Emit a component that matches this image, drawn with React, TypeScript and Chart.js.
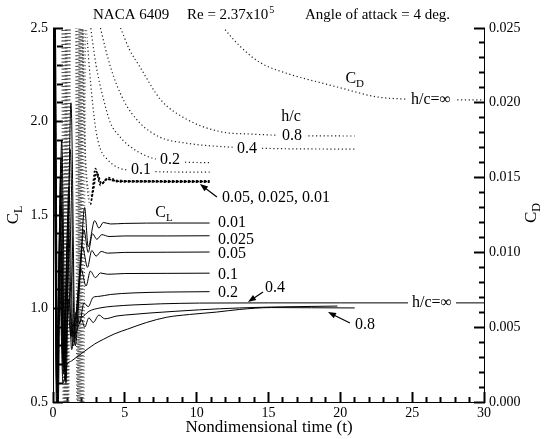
import React, { useEffect, useRef } from "react";
import { Chart, registerables } from "chart.js";

Chart.register(...registerables);

const SERIF = "'Liberation Serif', 'Times New Roman', Times, serif";

// ---------- axes ----------
const xMin = 0, xMax = 30, xMinorStep = 1, xMajor = 5;
const clMin = 0.5, clMax = 2.5, clMinorStep = 0.1, clMajor = 0.5;
const cdMin = 0, cdMax = 0.025, cdMinorStep = 0.001, cdMajor = 0.005;

// ---------- CL (solid) series: time, value ----------
const cl001T = [0, 0.15, 0.35, 0.6, 0.9, 1.25, 1.55, 1.9, 2.2, 2.45, 2.9, 3.2, 3.5, 4.0, 5.0, 8.0, 10.9];
const cl001 = [2.7, 2.6, 0.45, 1.9, 0.6, 2.1, 0.8, 1.2, 1.54, 1.33, 1.47, 1.43, 1.46, 1.452, 1.455, 1.457, 1.457];

const cl0025T = [0, 0.12, 0.32, 0.55, 0.85, 1.2, 1.5, 1.85, 2.15, 2.45, 2.75, 3.05, 3.4, 3.9, 5.0, 8.0, 10.9];
const cl0025 = [2.7, 2.6, 0.5, 1.8, 0.62, 1.85, 0.85, 1.15, 1.42, 1.3, 1.4, 1.37, 1.395, 1.385, 1.388, 1.388, 1.389];

const cl005T = [0, 0.1, 0.3, 0.52, 0.8, 1.1, 1.42, 1.75, 2.05, 2.4, 2.7, 3.0, 3.35, 3.8, 5.0, 8.0, 10.9];
const cl005 = [2.7, 2.6, 0.55, 1.7, 0.66, 1.65, 0.82, 1.1, 1.33, 1.22, 1.31, 1.28, 1.305, 1.296, 1.3, 1.301, 1.302];

const cl01T = [0, 0.08, 0.28, 0.5, 0.76, 1.05, 1.35, 1.65, 1.95, 2.3, 2.6, 2.95, 3.3, 3.8, 5.0, 8.0, 10.9];
const cl01 = [2.7, 2.6, 0.55, 1.55, 0.7, 1.5, 0.85, 1.0, 1.21, 1.12, 1.2, 1.165, 1.19, 1.183, 1.187, 1.188, 1.189];

const cl02T = [0, 0.07, 0.26, 0.48, 0.72, 1.0, 1.3, 1.6, 1.85, 2.15, 2.45, 2.8, 3.2, 4.0, 5.5, 8.0, 10.9];
const cl02 = [2.7, 2.6, 0.55, 1.45, 0.65, 1.35, 0.78, 0.98, 0.92, 1.03, 1.01, 1.06, 1.065, 1.075, 1.083, 1.088, 1.09];

const cl04T = [0, 0.06, 0.27, 0.5, 0.78, 1.1, 1.4, 1.67, 2.0, 2.2, 2.5, 2.8, 3.2, 3.6, 4.45, 5.5, 6.75, 8.5, 10.2, 13.0, 16.0, 19.8];
const cl04 = [2.7, 2.6, 0.58, 1.3, 0.68, 1.05, 0.8, 0.885, 0.94, 0.9, 0.95, 0.925, 0.965, 0.945, 0.96, 0.968, 0.976, 0.985, 0.993, 1.003, 1.009, 1.013];

const cl08T = [0, 0.05, 0.24, 0.45, 0.7, 0.97, 1.3, 2.0, 2.9, 3.5, 4.3, 5.2, 6.5, 7.9, 9.5, 11.4, 13.0, 15.2, 18.0, 21.0];
const cl08 = [2.7, 2.6, 0.5, 1.15, 0.6, 0.698, 0.72, 0.76, 0.81, 0.835, 0.865, 0.89, 0.925, 0.953, 0.968, 0.981, 0.995, 1.005, 1.004, 1.003];

const clInfT = [0, 0.05, 0.25, 0.45, 0.7, 0.95, 1.25, 1.55, 2.0, 2.5, 3.27, 4.2, 5.57, 7.5, 10.2, 15.0, 20.0, 25.0, 30.0];
const clInf = [2.7, 2.6, 0.6, 1.3, 0.72, 1.1, 0.85, 0.95, 0.955, 0.985, 1.003, 1.012, 1.019, 1.025, 1.029, 1.03, 1.03, 1.03, 1.03];

// ---------- CD (dotted) series: time, value ----------
const cd001T = [0.6, 0.72, 0.9, 1.55, 1.67, 1.85, 2.2, 2.6, 2.95, 3.3, 3.75, 4.5, 6.0, 8.0, 10.9];
const cd001 = [0.03, -0.003, 0.03, 0.03, -0.003, 0.03, 0.0172, 0.0132, 0.0156, 0.0145, 0.0149, 0.01472, 0.01471, 0.0147, 0.0147];

const cd0025T = [0.65, 0.78, 0.95, 1.6, 1.72, 1.9, 2.25, 2.65, 3.0, 3.35, 3.8, 4.5, 6.0, 8.0, 10.9];
const cd0025 = [0.03, -0.003, 0.03, 0.03, -0.003, 0.03, 0.0165, 0.0135, 0.0154, 0.0146, 0.0149, 0.01476, 0.01475, 0.01474, 0.01474];

const cd005T = [0.7, 0.83, 1.0, 1.66, 1.78, 1.95, 2.3, 2.7, 3.05, 3.4, 3.85, 4.5, 6.0, 8.0, 10.9];
const cd005 = [0.03, -0.003, 0.03, 0.03, -0.003, 0.03, 0.0158, 0.0138, 0.0153, 0.0146, 0.015, 0.0148, 0.01479, 0.01478, 0.01478];

const cd01T = [0.75, 0.88, 1.05, 1.72, 1.84, 2.0, 2.4, 2.7, 3.0, 3.3, 3.8, 4.45, 5.5, 7.0, 10.9];
const cd01 = [0.03, -0.003, 0.03, 0.03, -0.003, 0.03, 0.024, 0.0205, 0.0181, 0.0169, 0.0162, 0.0157, 0.01548, 0.0154, 0.01536];

const cd02T = [0.8, 0.93, 1.1, 1.78, 1.9, 2.05, 2.5, 3.0, 3.5, 4.0, 4.6, 5.2, 6.5, 8.0, 9.5, 10.9];
const cd02 = [0.03, -0.003, 0.03, 0.03, -0.003, 0.03, 0.026, 0.0225, 0.0203, 0.01865, 0.0178, 0.0172, 0.01645, 0.0161, 0.01602, 0.016];

const cd04T = [0.85, 0.98, 1.15, 1.85, 1.97, 2.12, 3.3, 4.0, 4.9, 6.05, 7.45, 9.3, 11.6, 15.0, 21.0];
const cd04 = [0.03, -0.003, 0.03, 0.03, -0.003, 0.03, 0.025, 0.0224, 0.0202, 0.01865, 0.0177, 0.0173, 0.01708, 0.01695, 0.0169];

const cd08T = [0.9, 1.03, 1.2, 1.92, 2.04, 2.2, 4.7, 5.3, 6.05, 7.5, 9.3, 11.6, 14.0, 17.0, 21.0];
const cd08 = [0.03, -0.003, 0.03, 0.03, -0.003, 0.03, 0.025, 0.0236, 0.0224, 0.0202, 0.0189, 0.01808, 0.0179, 0.0178, 0.01778];

const cdInfT = [0.95, 1.08, 1.25, 2.0, 2.12, 2.3, 10.5, 11.9, 13.0, 14.4, 16.5, 18.8, 20.0, 22.5, 24.5, 27.0, 30.0];
const cdInf = [0.03, -0.003, 0.03, 0.03, -0.003, 0.03, 0.027, 0.025, 0.0238, 0.0227, 0.0219, 0.0213, 0.021, 0.0204, 0.02025, 0.0202, 0.0202];

// ---------- annotations (in data coordinates) ----------
const clCurveLabels = ["0.01", "0.025", "0.05", "0.1", "0.2"];
const clCurveLabelT = [11.48, 11.48, 11.48, 11.48, 11.48];
const clCurveLabelV = [1.457, 1.366, 1.291, 1.179, 1.083];

const cdCurveLabels = ["0.1", "0.2", "0.4", "0.8", "h/c", "h/c=\u221E"];
const cdCurveLabelT = [6.12, 8.14, 13.5, 16.63, 16.57, 26.31];
const cdCurveLabelV = [0.01551, 0.01618, 0.01691, 0.01778, 0.01905, 0.02019];

const EARLY_T = 2.35;
const TICK_LEN = 10;
const MINOR_LEN = 6;

const isMajor = (v: number, major: number) => Math.abs(v / major - Math.round(v / major)) < 1e-6;

const mk = (ts: number[], vs: number[]) => ts.map((t, i) => ({ x: t, y: vs[i] }));

function solid(label: string, ts: number[], vs: number[]) {
  return {
    label,
    data: mk(ts, vs),
    yAxisID: "y",
    showLine: true,
    borderColor: "#000",
    borderWidth: 1,
    pointRadius: 0,
    fill: false,
    cubicInterpolationMode: "monotone" as const,
  };
}

function dotted(label: string, ts: number[], vs: number[], bold = false) {
  const early = (c: any) => c.p0.parsed.x < EARLY_T;
  return {
    label,
    data: mk(ts, vs),
    yAxisID: "y2",
    showLine: true,
    borderColor: bold ? "#000" : "#222",
    borderWidth: bold ? 1.6 : 1.2,
    borderDash: bold ? [2, 2] : [1.2, 2.6],
    pointRadius: 0,
    fill: false,
    cubicInterpolationMode: "monotone" as const,
    segment: {
      borderColor: (c: any) => (early(c) ? "#444" : undefined),
      borderWidth: (c: any) => (early(c) ? 1 : undefined),
      borderDash: (c: any) => (early(c) ? [1, 2.5] : undefined),
    },
  };
}

function drawText(ctx: CanvasRenderingContext2D, s: string, x: number, y: number, size: number, align: CanvasTextAlign, bg: boolean) {
  ctx.font = `${size}px ${SERIF}`;
  ctx.textAlign = align;
  ctx.textBaseline = "middle";
  if (bg) {
    const w = ctx.measureText(s).width;
    const x0 = align === "center" ? x - w / 2 : align === "left" ? x : x - w;
    ctx.fillStyle = "#fff";
    ctx.fillRect(x0 - 4, y - size * 0.42, w + 8, size * 0.84);
  }
  ctx.fillStyle = "#000";
  ctx.fillText(s, x, y);
}

function drawSub(ctx: CanvasRenderingContext2D, main: string, sub: string, x: number, y: number, size: number, subSize: number, rot: number) {
  ctx.save();
  ctx.translate(x, y);
  ctx.rotate(rot);
  ctx.textBaseline = "alphabetic";
  ctx.textAlign = "left";
  ctx.font = `${size}px ${SERIF}`;
  const w = ctx.measureText(main).width;
  ctx.font = `${subSize}px ${SERIF}`;
  const ws = ctx.measureText(sub).width;
  const x0 = -(w + ws) / 2;
  ctx.fillStyle = "#000";
  ctx.font = `${size}px ${SERIF}`;
  ctx.fillText(main, x0, size * 0.33);
  ctx.font = `${subSize}px ${SERIF}`;
  ctx.fillText(sub, x0 + w, size * 0.33 + subSize * 0.35);
  ctx.restore();
}

function arrow(ctx: CanvasRenderingContext2D, x1: number, y1: number, x2: number, y2: number) {
  const a = Math.atan2(y2 - y1, x2 - x1);
  const L = 8, H = 3;
  ctx.strokeStyle = "#000";
  ctx.fillStyle = "#000";
  ctx.setLineDash([]);
  ctx.lineWidth = 1.2;
  ctx.beginPath();
  ctx.moveTo(x1, y1);
  ctx.lineTo(x2 - Math.cos(a) * L * 0.8, y2 - Math.sin(a) * L * 0.8);
  ctx.stroke();
  ctx.beginPath();
  ctx.moveTo(x2, y2);
  ctx.lineTo(x2 - Math.cos(a) * L - Math.sin(a) * H, y2 - Math.sin(a) * L + Math.cos(a) * H);
  ctx.lineTo(x2 - Math.cos(a) * L + Math.sin(a) * H, y2 - Math.sin(a) * L - Math.cos(a) * H);
  ctx.closePath();
  ctx.fill();
}

const overlay = {
  id: "overlay",
  afterDraw(chart: any) {
    const ctx: CanvasRenderingContext2D = chart.ctx;
    const area = chart.chartArea;
    const xs = chart.scales.x, ys = chart.scales.y, y2s = chart.scales.y2;
    const X = (t: number) => xs.getPixelForValue(t);
    const YL = (v: number) => ys.getPixelForValue(v);
    const YD = (v: number) => y2s.getPixelForValue(v);
    ctx.save();

    // title
    drawText(ctx, "NACA 6409", 93, 15, 15, "left", false);
    drawText(ctx, "Re = 2.37x10", 187, 15, 15, "left", false);
    ctx.font = `15px ${SERIF}`;
    const wRe = ctx.measureText("Re = 2.37x10").width;
    drawText(ctx, "5", 187 + wRe + 1, 10, 10, "left", false);
    drawText(ctx, "Angle of attack = 4 deg.", 305, 15, 15, "left", false);

    // axis titles
    drawText(ctx, "Nondimensional time (t)", (area.left + area.right) / 2 + 0.5, 428, 17, "center", false);
    drawSub(ctx, "C", "L", 12, 215, 17, 12, -Math.PI / 2);
    drawSub(ctx, "C", "D", 530, 213, 17, 12, -Math.PI / 2);

    // CL labels at curve ends
    clCurveLabels.forEach((s, i) => drawText(ctx, s, X(clCurveLabelT[i]), YL(clCurveLabelV[i]), 16, "left", false));
    drawSub(ctx, "C", "L", X(7.72), YL(1.516), 16, 11, 0);

    // CD labels inline
    cdCurveLabels.forEach((s, i) => drawText(ctx, s, X(cdCurveLabelT[i]), YD(cdCurveLabelV[i]), 16, "center", true));
    drawSub(ctx, "C", "D", X(21.0), YD(0.02166), 16, 11, 0);
    drawText(ctx, "0.05, 0.025, 0.01", X(11.76), YD(0.01364), 16, "left", false);
    arrow(ctx, X(11.41), YD(0.0137), X(10.23), YD(0.01457));

    // CL infinity label (on the line) and arrows
    drawText(ctx, "h/c=\u221E", X(26.38), YL(1.029), 16, "center", true);
    drawText(ctx, "0.4", X(15.45), YL(1.11), 16, "center", false);
    arrow(ctx, X(14.62), YL(1.088), X(13.57), YL(1.035));
    drawText(ctx, "0.8", X(21.72), YL(0.912), 16, "center", false);
    arrow(ctx, X(20.67), YL(0.922), X(19.14), YL(0.981));

    ctx.restore();
  },
};

// inward tick marks through the scales' own grid ticks (negative length = inside)
function gridFor(major: number) {
  return {
    display: true,
    drawOnChartArea: false,
    drawTicks: true,
    tickLength: -TICK_LEN,
    tickColor: "#000",
    tickWidth: 2,
    tickBorderDash: (c: any) => (c.tick && isMajor(c.tick.value, major) ? [] : [MINOR_LEN, 100]),
  };
}

export default function App() {
  const ref = useRef<HTMLCanvasElement>(null);
  useEffect(() => {
    const tickFont = { family: SERIF, size: 14 };
    const chart = new Chart(ref.current as HTMLCanvasElement, {
      type: "scatter",
      data: {
        datasets: [
          solid("CL h/c=0.01", cl001T, cl001),
          solid("CL h/c=0.025", cl0025T, cl0025),
          solid("CL h/c=0.05", cl005T, cl005),
          solid("CL h/c=0.1", cl01T, cl01),
          solid("CL h/c=0.2", cl02T, cl02),
          solid("CL h/c=0.4", cl04T, cl04),
          solid("CL h/c=0.8", cl08T, cl08),
          solid("CL h/c=inf", clInfT, clInf),
          dotted("CD h/c=0.01", cd001T, cd001, true),
          dotted("CD h/c=0.025", cd0025T, cd0025, true),
          dotted("CD h/c=0.05", cd005T, cd005, true),
          dotted("CD h/c=0.1", cd01T, cd01),
          dotted("CD h/c=0.2", cd02T, cd02),
          dotted("CD h/c=0.4", cd04T, cd04),
          dotted("CD h/c=0.8", cd08T, cd08),
          dotted("CD h/c=inf", cdInfT, cdInf),
        ] as any,
      },
      options: {
        responsive: false,
        animation: false,
        devicePixelRatio: 1,
        events: [],
        layout: { padding: { top: 28, left: 0, right: 0, bottom: 0 } },
        plugins: { legend: { display: false }, tooltip: { enabled: false }, title: { display: false } },
        scales: {
          x: {
            type: "linear",
            position: "bottom",
            min: xMin,
            max: xMax,
            grid: gridFor(xMajor),
            border: { display: true, color: "#000", width: 1 },
            ticks: {
              stepSize: xMinorStep,
              font: tickFont,
              color: "#000",
              padding: 3 + TICK_LEN,
              maxRotation: 0,
              autoSkip: false,
              callback: (v: any) => (isMajor(Number(v), xMajor) ? String(v) : ""),
            },
            afterFit: (s: any) => { s.height = 37; },
          },
          y: {
            type: "linear",
            position: "left",
            min: clMin,
            max: clMax,
            grid: gridFor(clMajor),
            border: { display: true, color: "#000", width: 1 },
            ticks: {
              stepSize: clMinorStep,
              font: tickFont,
              color: "#000",
              padding: 5 + TICK_LEN,
              autoSkip: false,
              callback: (v: any) => (isMajor(Number(v), clMajor) ? Number(v).toFixed(1) : ""),
            },
            afterFit: (s: any) => { s.width = 53; },
          },
          y2: {
            type: "linear",
            position: "right",
            min: cdMin,
            max: cdMax,
            grid: gridFor(cdMajor),
            border: { display: true, color: "#000", width: 1 },
            ticks: {
              stepSize: cdMinorStep,
              font: tickFont,
              color: "#000",
              padding: 5 + TICK_LEN,
              autoSkip: false,
              callback: (v: any) => (isMajor(Number(v), cdMajor) ? Number(v).toFixed(3) : ""),
            },
            afterFit: (s: any) => { s.width = 60; },
          },
        },
      } as any,
      plugins: [overlay],
    });
    return () => chart.destroy();
  }, []);
  return (
    <canvas
      ref={ref}
      width={544}
      height={439}
      style={{ position: "absolute", left: 0, top: 0, width: 544, height: 439, background: "#fff" }}
    />
  );
}
